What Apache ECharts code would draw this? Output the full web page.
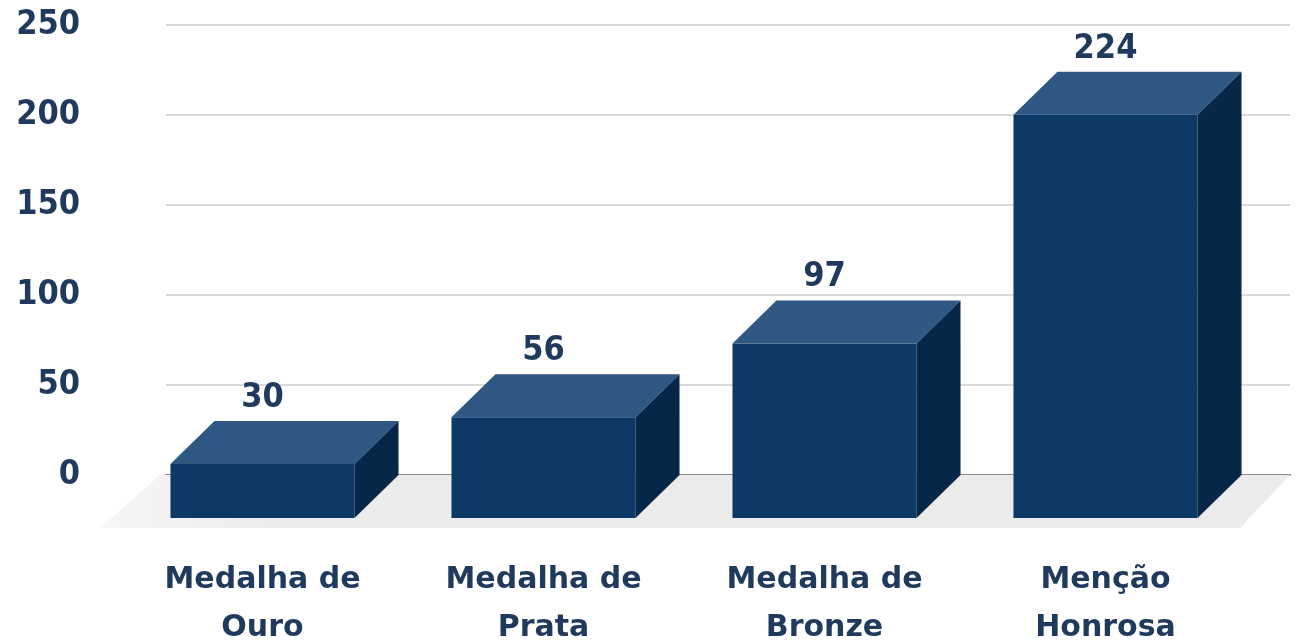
<!DOCTYPE html>
<html>
<head>
<meta charset="utf-8">
<script src="https://cdn.jsdelivr.net/npm/echarts@6/dist/echarts.min.js"></script>
<style>
  html, body { margin: 0; padding: 0; background: #ffffff; }
  #chart { width: 1307px; height: 641px; }
</style>
</head>
<body>
<div id="chart"></div>
<script>
// dados do gráfico
const categories = ['Medalha de\nOuro', 'Medalha de\nPrata', 'Medalha de\nBronze', 'Menção\nHonrosa']
const values = [30, 56, 97, 224]
const yMin = 0
const yMax = 250
const yStep = 50

// efeito 3D (deslocamento da face frontal em px)
const DX = 44
const DY = 43
const FLOOR_DX = 60
const FLOOR_DY = 53

const textColor = '#1f3a5c'
const numFont = 'bold 34px "DejaVu Sans Condensed", "DejaVu Sans", sans-serif'
const catFont = 'bold 30px "DejaVu Sans", sans-serif'

const chart = echarts.init(document.getElementById('chart'))

const renderFloor = (params, api) => {
  const cs = params.coordSys
  const y0 = api.coord([0, 0])[1]
  const xl = cs.x - 6
  const xr = cs.x + cs.width
  return {
    type: 'polygon',
    shape: {
      points: [[xl, y0], [xr, y0], [xr - FLOOR_DX + 10, y0 + FLOOR_DY], [xl - FLOOR_DX, y0 + FLOOR_DY]]
    },
    style: {
      fill: new echarts.graphic.LinearGradient(0, 0, 1, 0, [
        { offset: 0, color: '#f6f6f6' },
        { offset: 0.15, color: '#ececec' },
        { offset: 1, color: '#ebebeb' }
      ])
    }
  }
}

const renderBar = (params, api) => {
  const i = api.value(0)
  const v = api.value(1)
  const top = api.coord([i, v])
  const base = api.coord([i, 0])
  const band = api.size([1, 0])[0]
  const w = band * 0.655
  const fl = top[0] - DX - w / 2
  const fr = fl + w
  const ft = top[1] + DY
  const fb = base[1] + DY
  const cx = (fl + fr) / 2
  return {
    type: 'group',
    children: [
      {
        type: 'rect',
        shape: { x: fl, y: ft, width: w, height: fb - ft },
        style: { fill: '#0c3966' }
      },
      {
        type: 'polygon',
        shape: { points: [[fl, ft], [fr, ft], [fr + DX, top[1]], [fl + DX, top[1]]] },
        style: { fill: '#2e5783' }
      },
      {
        type: 'polygon',
        shape: { points: [[fr, ft], [fr + DX, top[1]], [fr + DX, base[1]], [fr, fb]] },
        style: { fill: '#072748' }
      },
      {
        type: 'text',
        style: {
          text: String(values[i]),
          x: cx,
          y: top[1] - 6,
          align: 'center',
          verticalAlign: 'bottom',
          font: numFont,
          fill: textColor
        }
      },
      {
        type: 'text',
        style: {
          text: categories[i],
          x: cx,
          y: fb + 38,
          align: 'center',
          verticalAlign: 'top',
          font: catFont,
          lineHeight: 48,
          fill: textColor
        }
      }
    ]
  }
}

const option = {
  animation: false,
  grid: {
    left: 166,
    right: 17,
    top: 25,
    bottom: 166
  },
  xAxis: {
    type: 'category',
    data: categories,
    axisLine: { lineStyle: { color: '#8a8a8a', width: 2 } },
    axisTick: { show: false },
    axisLabel: { show: false }
  },
  yAxis: {
    type: 'value',
    min: yMin,
    max: yMax,
    interval: yStep,
    axisLine: { show: false },
    axisTick: { show: false },
    splitLine: { lineStyle: { color: '#dadada', width: 2 } },
    axisLabel: {
      margin: 86,
      color: textColor,
      fontSize: 34,
      fontWeight: 'bold',
      fontFamily: '"DejaVu Sans Condensed", "DejaVu Sans", sans-serif'
    }
  },
  series: [
    {
      type: 'custom',
      renderItem: renderFloor,
      data: [[0, 0]],
      encode: { x: 0, y: 1 },
      z: 1,
      silent: true
    },
    {
      type: 'custom',
      renderItem: renderBar,
      data: values.map((v, i) => [i, v]),
      encode: { x: 0, y: 1 },
      z: 3
    }
  ]
}

chart.setOption(option)
</script>
</body>
</html>
